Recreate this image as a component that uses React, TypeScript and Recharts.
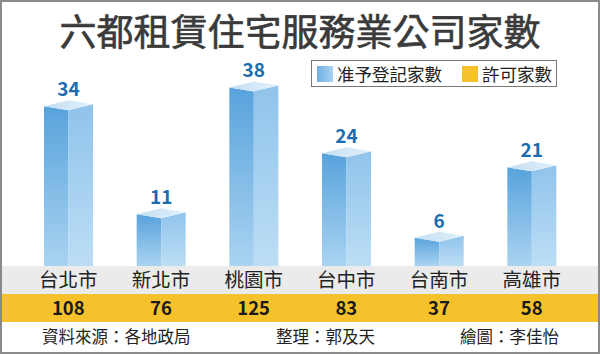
import React from "react";
import { BarChart, Bar, XAxis, YAxis, LabelList } from "recharts";

const cities = ["台北市", "新北市", "桃園市", "台中市", "台南市", "高雄市"];
const registered = [34, 11, 38, 24, 6, 21];
const permitted = [108, 76, 125, 83, 37, 58];

const data = cities.map((c, i) => ({ city: c, registered: registered[i], permitted: permitted[i] }));

const FONT = '"Noto Sans CJK TC", "Noto Sans", sans-serif';

const Bar3D = (props: any) => {
  const { x, y, width, height } = props;
  const fw = width * 0.5;
  const bottom = y + height;
  const front = `${x},${y} ${x + fw},${y + 4} ${x + fw},${bottom} ${x},${bottom}`;
  const side = `${x + fw},${y + 4} ${x + width},${y - 2} ${x + width},${bottom} ${x + fw},${bottom}`;
  const top = `${x},${y} ${x + fw},${y + 4} ${x + width},${y - 2} ${x + width - fw},${y - 6}`;
  return (
    <g>
      <polygon points={front} fill="url(#frontGrad)" />
      <polygon points={side} fill="url(#sideGrad)" />
      <polygon points={top} fill="url(#topGrad)" />
    </g>
  );
};

const ValueLabel = (props: any) => {
  const { x, y, width, value } = props;
  return (
    <text x={x + width / 2} y={y - 10} textAnchor="middle" fontFamily={FONT} fontWeight={700} fontSize={19} fill="#1c6cb0">
      {value}
    </text>
  );
};

const CityTick = (props: any) => {
  const { x, payload, index } = props;
  return (
    <g>
      <text x={x} y={287} textAnchor="middle" fontFamily={FONT} fontSize={19.5} fill="#222">
        {payload.value}
      </text>
      <text x={x} y={315} textAnchor="middle" fontFamily={FONT} fontWeight={700} fontSize={18.5} fill="#1a1a1a">
        {permitted[index]}
      </text>
    </g>
  );
};

export default function App() {
  return (
    <div style={{ position: "absolute", left: 0, top: 0, width: 600, height: 354, background: "#fff", fontFamily: FONT, overflow: "hidden" }}>
      <div style={{ position: "absolute", left: 0, top: 266, width: 600, height: 28, background: "#ebebeb" }} />
      <div style={{ position: "absolute", left: 0, top: 294, width: 600, height: 28, background: "#f6c22c" }} />

      <div style={{ position: "absolute", left: 0, top: 8, width: 600, textAlign: "center", fontSize: 37, fontWeight: 400, color: "#3a3a3a", lineHeight: "44px", WebkitTextStroke: "0.6px #3a3a3a" }}>
        六都租賃住宅服務業公司家數
      </div>

      <div style={{ position: "absolute", left: 311, top: 60, width: 244, height: 25, border: "1px solid #777", display: "flex", alignItems: "center", fontSize: 17.5, color: "#222" }}>
        <span style={{ display: "inline-block", width: 16, height: 16, marginLeft: 5, background: "linear-gradient(90deg, #6fb0e6, #a9d3f2)" }} />
        <span style={{ marginLeft: 4 }}>准予登記家數</span>
        <span style={{ display: "inline-block", width: 16, height: 16, marginLeft: 20, background: "#f6c22c" }} />
        <span style={{ marginLeft: 4 }}>許可家數</span>
      </div>

      <div style={{ position: "absolute", left: 0, top: 0 }}>
        <BarChart width={600} height={354} data={data} margin={{ top: 31, right: 22, bottom: 58, left: 22 }}>
          <defs>
            <linearGradient id="frontGrad" x1="0" y1="0" x2="0" y2="1">
              <stop offset="0%" stopColor="#58a3dc" />
              <stop offset="100%" stopColor="#aad3f1" />
            </linearGradient>
            <linearGradient id="sideGrad" x1="0" y1="0" x2="0" y2="1">
              <stop offset="0%" stopColor="#90c3eb" />
              <stop offset="100%" stopColor="#bcdef5" />
            </linearGradient>
            <linearGradient id="topGrad" x1="0" y1="0" x2="1" y2="0">
              <stop offset="0%" stopColor="#c3dff4" />
              <stop offset="100%" stopColor="#e2f0fb" />
            </linearGradient>
          </defs>
          <XAxis dataKey="city" height={30} axisLine={false} tickLine={false} interval={0} tick={<CityTick />} />
          <YAxis hide domain={[0, 50]} />
          <Bar dataKey="registered" barSize={49} shape={<Bar3D />} isAnimationActive={false}>
            <LabelList dataKey="registered" content={<ValueLabel />} />
          </Bar>
        </BarChart>
      </div>

      <div style={{ position: "absolute", left: 42, top: 324, fontSize: 16.5, color: "#222", lineHeight: "24px" }}>資料來源：各地政局</div>
      <div style={{ position: "absolute", left: 276, top: 324, fontSize: 16.5, color: "#222", lineHeight: "24px" }}>整理：郭及天</div>
      <div style={{ position: "absolute", left: 460, top: 324, fontSize: 16.5, color: "#222", lineHeight: "24px" }}>繪圖：李佳怡</div>

      <div style={{ position: "absolute", left: 0, top: 0, width: 600, height: 354, boxSizing: "border-box", border: "2px solid #8a8a8a", pointerEvents: "none" }} />
    </div>
  );
}
